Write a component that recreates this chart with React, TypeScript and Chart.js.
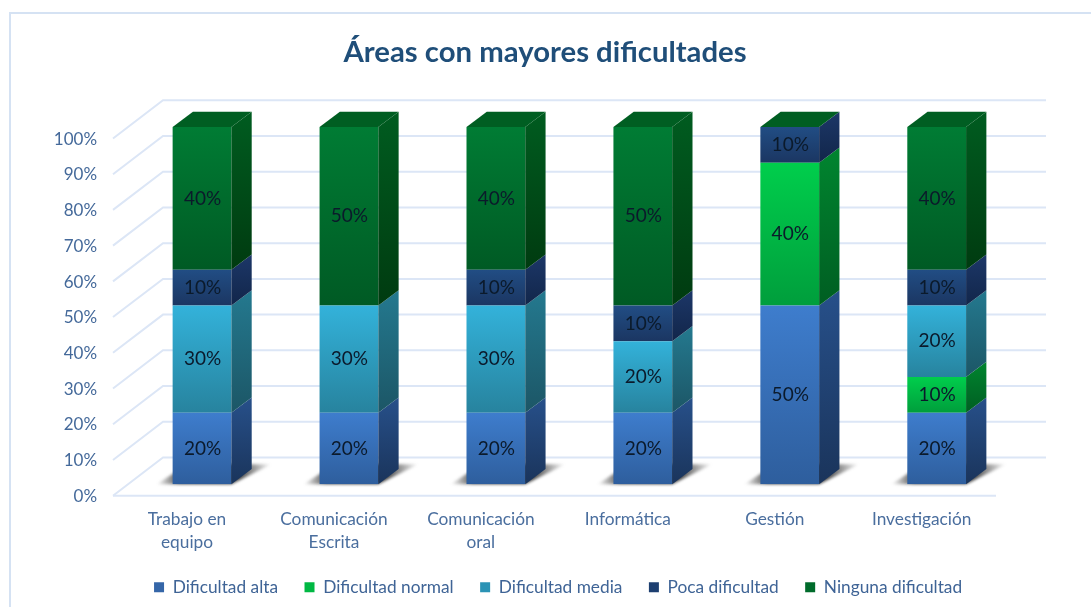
import React, { useEffect, useRef } from "react";
import { Chart, registerables } from "chart.js";

Chart.register(...registerables);

const categories = [["Trabajo en", "equipo"], ["Comunicación", "Escrita"], ["Comunicación", "oral"], "Informática", "Gestión", "Investigación"];
const yTicks = [0, 10, 20, 30, 40, 50, 60, 70, 80, 90, 100];
const chartTitle = "Áreas con mayores dificultades";

const dificultadAlta = [20, 20, 20, 20, 50, 20];
const dificultadNormal = [0, 0, 0, 0, 40, 10];
const dificultadMedia = [30, 30, 30, 20, 0, 20];
const pocaDificultad = [10, 0, 10, 10, 10, 10];
const ningunaDificultad = [40, 50, 40, 50, 0, 40];

const seriesNames = ["Dificultad alta", "Dificultad normal", "Dificultad media", "Poca dificultad", "Ninguna dificultad"];
const seriesValues = [dificultadAlta, dificultadNormal, dificultadMedia, pocaDificultad, ningunaDificultad];

const legendColors = ["#3566A8", "#00B843", "#2B93B5", "#1D3F70", "#006B2B"];
const frontTop = ["#3E7DCD", "#00CE4C", "#33B2DA", "#214D84", "#007C34"];
const frontBottom = ["#2E5E9D", "#009E3C", "#27839E", "#1B3662", "#005A24"];
const sideTop = ["#27508A", "#00852F", "#24798F", "#1C3768", "#005C20"];
const sideBottom = ["#1A345B", "#005E22", "#1C5666", "#12264A", "#003B10"];
const topFace = "#005E22";

const FONT = "Lato, Carlito, Calibri, sans-serif";
const GRID = "#DCE6F6";
const DX = 20.3;
const DY = 15.3;

const shift3d = {
  id: "shift3d",
  afterLayout(chart: any) {
    const l = chart.legend;
    if (l) {
      l.left += 53;
      l.right += 53;
      l.top -= 1;
      l.bottom -= 1;
    }
    const t = chart.titleBlock;
    if (t) {
      t.left += 40;
      t.right += 40;
    }
  },
  beforeDatasetsDraw(chart: any) {
    const { ctx, scales } = chart;
    const y = scales.y;
    ctx.save();
    ctx.strokeStyle = GRID;
    ctx.lineWidth = 2;
    const backL = 163, frontL = 113, backR = 1046, frontR = 996;
    yTicks.forEach((t) => {
      const py = y.getPixelForValue(t);
      ctx.beginPath();
      ctx.moveTo(frontL, py + 11.5);
      ctx.lineTo(backL, py - 26.7);
      ctx.lineTo(backR, py - 26.7);
      ctx.stroke();
    });
    const p0 = y.getPixelForValue(0);
    ctx.beginPath();
    ctx.moveTo(frontL, p0 + 11.5);
    ctx.lineTo(frontR, p0 + 11.5);
    ctx.stroke();
    // base shadows
    const meta = chart.getDatasetMeta(0);
    meta.data.forEach((el: any) => {
      const l = el.x - el.width / 2;
      const r = el.x + el.width / 2;
      const g = ctx.createLinearGradient(l - 16, 0, r + 40, 0);
      g.addColorStop(0, "rgba(60,60,60,0)");
      g.addColorStop(0.2, "rgba(60,60,60,0.9)");
      g.addColorStop(0.72, "rgba(60,60,60,0.95)");
      g.addColorStop(1, "rgba(60,60,60,0)");
      ctx.save();
      ctx.filter = "blur(1.5px)";
      ctx.fillStyle = g;
      ctx.beginPath();
      ctx.moveTo(l - 16, p0);
      ctx.lineTo(r, p0);
      ctx.lineTo(r + 40, p0 - 20);
      ctx.lineTo(l + 15, p0 - 20);
      ctx.closePath();
      ctx.fill();
      ctx.restore();
    });
    ctx.restore();
  },
  afterDatasetsDraw(chart: any) {
    const { ctx } = chart;
    ctx.save();
    seriesValues.forEach((vals, ds) => {
      const meta = chart.getDatasetMeta(ds);
      meta.data.forEach((el: any, i: number) => {
        if (!vals[i]) return;
        const r = el.x + el.width / 2;
        const g = ctx.createLinearGradient(0, el.y - DY, 0, el.base);
        g.addColorStop(0, sideTop[ds]);
        g.addColorStop(1, sideBottom[ds]);
        ctx.fillStyle = g;
        ctx.beginPath();
        ctx.moveTo(r, el.y);
        ctx.lineTo(r + DX, el.y - DY);
        ctx.lineTo(r + DX, el.base - DY);
        ctx.lineTo(r, el.base);
        ctx.closePath();
        ctx.fill();
      });
    });
    const last = chart.getDatasetMeta(seriesValues.length - 1);
    last.data.forEach((el: any) => {
      const l = el.x - el.width / 2;
      const r = el.x + el.width / 2;
      ctx.fillStyle = topFace;
      ctx.beginPath();
      ctx.moveTo(l, el.y);
      ctx.lineTo(l + DX, el.y - DY);
      ctx.lineTo(r + DX, el.y - DY);
      ctx.lineTo(r, el.y);
      ctx.closePath();
      ctx.fill();
    });
    ctx.font = `19px ${FONT}`;
    ctx.fillStyle = "#0B1A2B";
    ctx.textAlign = "center";
    ctx.textBaseline = "middle";
    seriesValues.forEach((vals, ds) => {
      chart.getDatasetMeta(ds).data.forEach((el: any, i: number) => {
        if (!vals[i]) return;
        ctx.fillText(`${vals[i]}%`, el.x + 0.5, (el.y + el.base) / 2);
      });
    });
    ctx.restore();
  },
};

export default function App() {
  const ref = useRef<HTMLCanvasElement>(null);
  useEffect(() => {
    const chart = new Chart(ref.current as HTMLCanvasElement, {
      type: "bar",
      data: {
        labels: categories as any,
        datasets: seriesNames.map((name, ds) => ({
          label: name,
          data: seriesValues[ds],
          borderWidth: 0,
          barPercentage: 0.4,
          categoryPercentage: 1,
          backgroundColor: (c: any) => {
            const ch = c.chart;
            const sc = ch.scales?.y;
            if (!sc || c.dataIndex === undefined) return legendColors[ds];
            let start = 0;
            for (let k = 0; k < ds; k++) start += seriesValues[k][c.dataIndex];
            const end = start + seriesValues[ds][c.dataIndex];
            const g = ch.ctx.createLinearGradient(0, sc.getPixelForValue(end), 0, sc.getPixelForValue(start));
            g.addColorStop(0, frontTop[ds]);
            g.addColorStop(1, frontBottom[ds]);
            return g;
          },
        })),
      },
      options: {
        responsive: false,
        animation: false,
        layout: { padding: { left: 0, right: 80.85, top: 0, bottom: 0 } },
        scales: {
          x: {
            stacked: true,
            grid: { display: false, drawTicks: false },
            border: { display: false },
            afterFit: (s: any) => { s.height = 69; },
            ticks: {
              maxRotation: 0,
              minRotation: 0,
              autoSkip: false,
              labelOffset: -15,
              padding: 23.5,
              color: "#4A6E9E",
              font: { family: FONT, size: 17.3, lineHeight: 1.33 },
            },
          },
          y: {
            stacked: true,
            min: 0,
            max: 100,
            grid: { display: false, drawTicks: false },
            border: { display: false },
            afterFit: (s: any) => { s.width = 128.55; },
            ticks: {
              stepSize: 10,
              padding: 31.5,
              labelOffset: 12.2,
              color: "#44699A",
              font: { family: FONT, size: 17 },
              callback: (v: any) => `${v}%`,
            },
          },
        },
        plugins: {
          tooltip: { enabled: false },
          title: {
            display: true,
            text: chartTitle,
            color: "#1F4E79",
            font: { family: FONT, size: 29.3, weight: "bold" },
            padding: { top: 35, bottom: 56.8 },
          },
          legend: {
            display: true,
            position: "bottom",
            labels: {
              boxWidth: 10,
              boxHeight: 10,
              padding: 26.5,
              color: "#3F6496",
              font: { family: FONT, size: 17.3 },
              generateLabels: () =>
                seriesNames.map((n, i) => ({
                  text: n,
                  fillStyle: legendColors[i],
                  strokeStyle: legendColors[i],
                  lineWidth: 0,
                  hidden: false,
                  datasetIndex: i,
                  fontColor: "#3F6496",
                })),
            },
          },
        },
      } as any,
      plugins: [shift3d],
    });
    return () => chart.destroy();
  }, []);
  return (
    <div style={{ position: "fixed", inset: 0, overflow: "hidden", background: "#fff" }}>
      <canvas ref={ref} width={1091} height={607} style={{ position: "absolute", left: 0, top: 0, display: "block" }} />
      <div style={{ position: "absolute", left: 9, top: 12, right: -10, bottom: -10, borderLeft: "2px solid #D5E2F3", borderTop: "2px solid #D5E2F3", pointerEvents: "none" }} />
    </div>
  );
}
